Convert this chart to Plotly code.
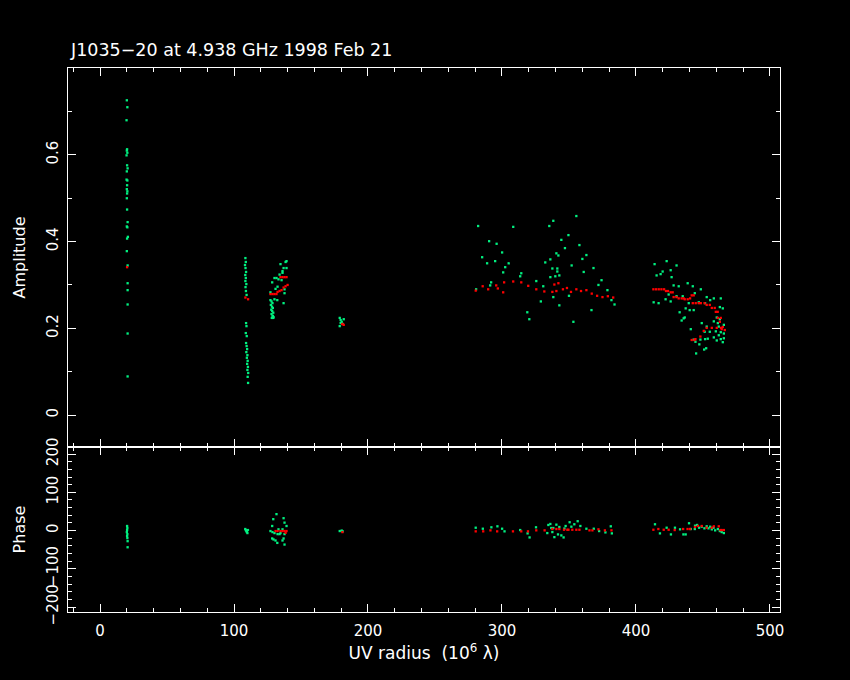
import plotly.graph_objects as go

# ---------------- data ----------------
amp_green_uv = [
    20.0, 20.4, 19.8, 20.2, 20.0, 20.4, 19.8, 20.2, 20.6, 20.0, 19.8, 20.4, 20.2, 20.0, 20.4, 20.2, 20.0,
    20.2, 20.6, 20.0, 20.4, 20.8, 20.2, 20.0, 20.6, 20.6, 20.6, 20.6, 20.6, 20.6,
    108.5, 108.8, 108.2, 108.6, 109.0, 108.4, 108.8, 108.5, 109.2, 108.6, 108.9, 109.4,
    109.0, 109.3, 108.8, 109.5, 109.0, 109.4, 109.8, 109.2, 110.0, 109.6, 110.2, 109.8, 110.4, 110.0, 110.6, 110.2, 110.5,
    134.7, 138.5, 139.2, 137.0, 139.2, 136.2, 136.2, 134.0, 130.2, 131.7, 133.2, 135.5, 128.5, 132.5, 131.0, 137.7,
    127.2, 137.7, 130.2, 132.3, 137.0,
    127.2, 128.0, 128.7, 127.5, 128.3, 129.0, 127.8, 128.5, 129.3, 128.0, 128.8, 129.5, 128.2, 129.0, 129.3,
    178.9, 179.6, 180.4, 181.1, 178.9, 181.9, 179.6,
    285.2, 300.1, 288.9, 294.9, 302.4, 300.9, 314.4, 313.6, 291.9, 280.7, 291.2, 325.6, 330.8, 332.3, 336.1,
    340.6, 342.1, 337.6, 341.3, 339.8, 342.8, 336.1, 341.3, 338.3, 342.8, 318.9, 320.4,
    282.2, 290.4, 308.4, 335.3, 338.3, 355.5, 349.6, 357.8, 344.3, 363.0, 368.3, 374.3, 378.7, 381.7, 366.8, 353.3,
    296.0, 305.0, 347.0, 352.0, 360.0, 372.0, 384.0, 329.0, 350.0, 361.0,
    413.9, 422.9, 430.3, 425.9, 419.9, 418.4, 415.4, 426.6, 438.6, 428.1, 442.4, 431.9, 443.9, 448.4, 424.4,
    430.3, 434.9, 422.1, 425.9, 413.2, 416.9, 439.4, 446.9, 452.8, 458.1, 463.3, 455.4, 462.6, 451.6, 464.8,
    437.1, 440.1, 443.1, 432.6, 436.4, 435.6, 434.1, 460.3, 462.6, 458.1, 461.1, 461.8, 465.6, 452.8, 449.1,
    440.9, 463.3, 459.6, 465.6, 455.1, 451.3, 461.8, 465.6, 458.1, 463.3, 453.6, 464.8, 460.3, 448.1, 444.4,
    447.3, 451.6, 443.1, 452.4, 450.9, 444.9,
]
amp_green_val = [
    0.726, 0.710, 0.680, 0.613, 0.610, 0.605, 0.599, 0.576, 0.569, 0.562, 0.543, 0.541, 0.530, 0.521, 0.516, 0.511, 0.500,
    0.474, 0.445, 0.435, 0.433, 0.411, 0.407, 0.378, 0.345, 0.304, 0.288, 0.255, 0.188, 0.089,
    0.362, 0.353, 0.346, 0.339, 0.330, 0.323, 0.316, 0.309, 0.302, 0.295, 0.286, 0.277,
    0.212, 0.205, 0.189, 0.182, 0.166, 0.159, 0.152, 0.145, 0.138, 0.132, 0.125, 0.118, 0.111, 0.104, 0.097, 0.088, 0.074,
    0.348, 0.353, 0.355, 0.339, 0.339, 0.332, 0.328, 0.324, 0.316, 0.316, 0.313, 0.311, 0.306, 0.296, 0.291, 0.290,
    0.283, 0.281, 0.267, 0.265, 0.258,
    0.265, 0.262, 0.258, 0.254, 0.250, 0.247, 0.243, 0.240, 0.236, 0.233, 0.229, 0.226, 0.224, 0.228, 0.224,
    0.224, 0.219, 0.215, 0.210, 0.205, 0.221, 0.212,
    0.364, 0.375, 0.350, 0.355, 0.341, 0.329, 0.327, 0.320, 0.306, 0.290, 0.299, 0.309, 0.297, 0.352, 0.359,
    0.373, 0.368, 0.338, 0.338, 0.320, 0.322, 0.318, 0.331, 0.272, 0.253, 0.237, 0.221,
    0.436, 0.401, 0.434, 0.436, 0.448, 0.459, 0.415, 0.392, 0.404, 0.369, 0.339, 0.311, 0.288, 0.265, 0.242, 0.215,
    0.395, 0.350, 0.385, 0.345, 0.360, 0.300, 0.255, 0.262, 0.275, 0.330,
    0.348, 0.355, 0.345, 0.334, 0.331, 0.325, 0.322, 0.318, 0.304, 0.299, 0.297, 0.297, 0.281, 0.290, 0.278,
    0.274, 0.274, 0.267, 0.262, 0.260, 0.258, 0.258, 0.260, 0.272, 0.269, 0.269, 0.265, 0.249, 0.258, 0.246,
    0.246, 0.242, 0.242, 0.237, 0.225, 0.223, 0.218, 0.225, 0.221, 0.216, 0.212, 0.204, 0.208, 0.204, 0.212,
    0.198, 0.191, 0.193, 0.188, 0.192, 0.192, 0.184, 0.177, 0.179, 0.175, 0.176, 0.168, 0.172, 0.174, 0.169,
    0.163, 0.175, 0.174, 0.154, 0.151, 0.142,
]

amp_red_uv = [
    20.2, 108.5, 110.5,
    127.2, 128.7, 130.2, 131.7, 132.5, 134.0, 135.5, 137.0, 138.5, 140.0, 134.7, 136.2, 137.7, 139.2,
    180.8, 181.9,
    280.4, 285.6, 289.7, 295.7, 296.9, 301.6, 300.9, 308.4, 314.4, 319.6, 325.6, 331.6, 337.6, 339.1, 342.1, 340.6,
    345.5, 348.5, 351.5, 355.5, 359.0, 363.0, 367.0, 371.0, 375.0, 379.0, 383.0,
    413.0, 415.0, 417.0, 419.0, 421.0, 422.4, 423.9, 425.9, 427.4, 428.1, 430.3, 431.9, 434.1, 435.6, 436.4, 438.6,
    441.6, 443.1, 440.4, 442.4, 444.6, 446.9, 448.4, 451.2, 452.8, 455.1, 456.6, 458.8, 459.6, 461.0, 461.1, 463.3,
    462.6, 464.8, 464.0, 466.3, 460.3, 463.5, 452.8, 456.6, 450.6, 448.1, 444.4, 441.6, 443.7,
]
amp_red_val = [
    0.341, 0.271, 0.267,
    0.279, 0.279, 0.279, 0.279, 0.284, 0.286, 0.288, 0.294, 0.297, 0.300, 0.318, 0.318, 0.318, 0.318,
    0.210, 0.208,
    0.287, 0.297, 0.290, 0.299, 0.292, 0.306, 0.283, 0.308, 0.306, 0.298, 0.290, 0.285, 0.284, 0.301, 0.304, 0.286,
    0.290, 0.293, 0.284, 0.290, 0.286, 0.288, 0.280, 0.275, 0.272, 0.274, 0.271,
    0.290, 0.290, 0.290, 0.290, 0.290, 0.286, 0.286, 0.283, 0.283, 0.272, 0.272, 0.269, 0.269, 0.269, 0.267, 0.267,
    0.276, 0.276, 0.269, 0.258, 0.258, 0.258, 0.258, 0.258, 0.254, 0.254, 0.247, 0.247, 0.238, 0.238, 0.224, 0.224,
    0.215, 0.203, 0.198, 0.196, 0.201, 0.201, 0.201, 0.201, 0.194, 0.181, 0.175, 0.173, 0.173,
]

ph_green_uv = [
    20.2, 20.4, 20.2, 20.0, 20.4, 20.2, 20.4, 20.6, 20.6,
    108.4, 108.8, 109.2, 109.6, 110.0, 110.4,
    131.7, 129.3, 137.0, 137.7, 139.2, 128.5, 127.2, 128.7, 130.2, 133.2, 136.2, 132.5, 134.0, 134.7, 137.7,
    128.5, 129.5, 131.0, 137.0, 136.2, 137.7, 132.3,
    178.9, 180.4, 181.1,
    280.4, 285.7, 292.1, 296.6, 300.1, 301.9, 313.6, 319.1, 320.6, 325.4, 336.1, 336.8, 337.6, 340.6, 341.8,
    344.3, 346.0, 347.5, 350.5, 351.8, 354.0, 356.5, 358.5, 363.0, 368.5, 372.5, 377.2, 381.2, 382.0,
    338.3, 342.8, 346.6, 334.6, 333.8, 339.1,
    414.2, 417.9, 422.9, 426.1, 429.1, 432.9, 435.4, 437.1, 439.6, 440.9, 443.9, 444.1, 445.6, 447.1, 449.1,
    451.1, 452.8, 454.1, 455.4, 456.6, 457.9, 459.1, 461.1, 462.6, 464.0, 465.6,
]
ph_green_val = [
    11.9, 6.6, 1.3, -4.0, -9.3, -14.6, -19.9, -27.8, -43.7,
    4.0, 1.3, -1.3, -4.0, -6.6, 1.3,
    42.9, 29.7, 32.3, 20.7, 11.9, 11.9, -1.3, -4.0, -6.6, 3.2, 3.2, -9.3, -9.3, -6.6, -9.3,
    -20.7, -23.3, -26.0, -20.7, -26.0, -36.6, -32.3,
    -1.3, 0.0, -2.0,
    7.4, 4.8, 8.5, 11.1, 4.8, -2.1, 1.3, -7.4, -18.0, 8.5, 17.2, 6.6, -4.0, 15.4, -10.1,
    -12.7, -18.0, 11.9, 21.7, 10.1, 16.4, 24.4, 11.9, 4.8, 4.8, -1.3, -4.8, 11.1, -7.4,
    6.6, 9.3, 5.3, 14.6, -6.6, -17.2,
    16.4, -7.4, 7.4, -10.1, 7.4, 3.2, -10.1, -10.1, 19.1, 4.0, 4.0, 12.7, 14.6, 7.4, 10.1,
    5.8, 11.1, 5.8, 10.1, 3.2, 7.4, 0.5, 4.0, -1.3, -4.0, -6.6,
]

ph_red_uv = [
    131.0, 132.5, 134.7, 136.2, 137.7, 139.2, 138.5,
    180.9,
    280.4, 286.0, 291.4, 296.4, 308.2, 314.4, 319.4, 325.6, 331.8, 337.6, 340.6, 342.8, 346.3, 348.8,
    349.6, 352.5, 355.5, 357.8, 365.3, 367.5, 372.0, 376.8, 381.7,
    413.0, 416.7, 420.7, 424.4, 428.9, 435.2, 438.5, 440.4, 444.1, 446.3, 449.1, 452.8, 456.6, 458.1, 461.8,
    463.0, 464.0, 465.6,
]
ph_red_val = [
    -1.3, -1.3, -1.3, -1.3, -1.3, -1.3, -5.8,
    -4.0,
    -2.1, -2.1, 0.5, -2.1, -2.1, -2.1, -2.1, 0.5, 0.5, 4.0, 4.0, 4.0, 2.1, 2.1,
    2.1, 2.1, 2.1, 2.1, 0.5, 0.5, 3.2, 0.5, 0.5,
    2.1, 4.0, 2.1, 2.1, 1.3, 4.0, 4.0, 4.0, 9.3, 11.9, 11.9, 7.4, 7.4, 11.1, 11.1,
    1.3, 1.3, 1.3,
]

title_text = "J1035\u221220 at 4.938 GHz 1998 Feb 21"
x_ticks = [0, 100, 200, 300, 400, 500]
amp_ticks = [0, 0.2, 0.4, 0.6]
amp_tick_text = ["0", "0.2", "0.4", "0.6"]
ph_ticks = [-200, -100, 0, 100, 200]
ph_tick_text = ["\u2212200", "\u2212100", "0", "100", "200"]

# ---------------- figure ----------------
GREEN = "#00f080"
RED = "#ff0000"
FONT = "DejaVu Sans"
mk = dict(symbol="square", size=2.3, line=dict(width=0))

fig = go.Figure()
fig.add_trace(go.Scatter(x=amp_green_uv, y=amp_green_val, mode="markers",
                         marker=dict(color=GREEN, **mk), xaxis="x2", yaxis="y"))
fig.add_trace(go.Scatter(x=amp_red_uv, y=amp_red_val, mode="markers",
                         marker=dict(color=RED, **mk), xaxis="x2", yaxis="y"))
fig.add_trace(go.Scatter(x=ph_green_uv, y=ph_green_val, mode="markers",
                         marker=dict(color=GREEN, **mk), xaxis="x", yaxis="y2"))
fig.add_trace(go.Scatter(x=ph_red_uv, y=ph_red_val, mode="markers",
                         marker=dict(color=RED, **mk), xaxis="x", yaxis="y2"))

split = (612 - 447) / 544.0
xr = [-23.9, 507.5]
axis_common = dict(showline=True, linecolor="white", linewidth=1, mirror="allticks",
                   ticks="inside", ticklen=8, tickcolor="white", tickwidth=1,
                   showgrid=False, zeroline=False,
                   tickfont=dict(color="white", size=15, family=FONT))

fig.update_layout(
    width=850, height=680,
    paper_bgcolor="black", plot_bgcolor="black",
    margin=dict(l=68, r=70, t=68, b=68),
    showlegend=False,
    font=dict(family=FONT, color="white"),
    xaxis=dict(range=xr, anchor="y2", domain=[0, 1], tickvals=x_ticks, ticklabelstandoff=5,
               minor=dict(dtick=20, ticks="inside", ticklen=4, tickcolor="white"),
               title=dict(text="UV radius  (10<sup>6</sup> \u03bb)", font=dict(size=17, color="white"), standoff=8),
               **axis_common),
    xaxis2=dict(range=xr, anchor="y", domain=[0, 1], matches="x", tickvals=x_ticks,
                showticklabels=False,
                minor=dict(dtick=20, ticks="inside", ticklen=4, tickcolor="white"),
                **axis_common),
    yaxis=dict(range=[-0.0738, 0.8005], domain=[split, 1], anchor="x2",
               tickvals=amp_ticks, ticktext=amp_tick_text, tickangle=-90, ticklabelstandoff=3,
               minor=dict(dtick=0.1, tick0=0, ticks="inside", ticklen=4, tickcolor="white"),
               title=dict(text="Amplitude", font=dict(size=16, color="white"), standoff=14),
               **axis_common),
    yaxis2=dict(range=[-213, 218.5], domain=[0, split], anchor="x",
                tickvals=ph_ticks, ticktext=ph_tick_text, tickangle=-90, ticklabelstandoff=3,
                minor=dict(dtick=20, tick0=0, ticks="inside", ticklen=4, tickcolor="white"),
                title=dict(text="Phase", font=dict(size=16, color="white"), standoff=14),
                **axis_common),
    annotations=[dict(text=title_text, xref="paper", yref="paper", x=0, y=1,
                      xanchor="left", yanchor="bottom", yshift=6, showarrow=False,
                      font=dict(size=17.5, color="white", family=FONT))],
)

fig.write_html("out.html", config={"displayModeBar": False},
               post_script="document.body.style.margin='0';document.body.style.background='black';")
